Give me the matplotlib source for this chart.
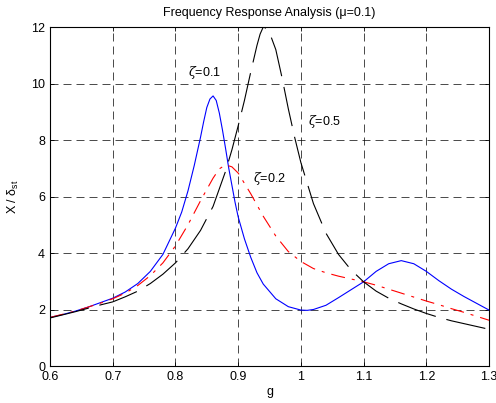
import matplotlib
matplotlib.use("Agg")
import matplotlib.pyplot as plt

plt.rcParams['font.family'] = ['Liberation Sans', 'DejaVu Sans']
plt.rcParams['mathtext.fontset'] = 'custom'
plt.rcParams['mathtext.rm'] = 'Liberation Sans'
plt.rcParams['mathtext.it'] = 'DejaVu Serif:italic'
plt.rcParams['lines.scale_dashes'] = False

# zeta = 0.1 (blue, solid)
g_z01 = [0.60, 0.62, 0.64, 0.66, 0.68, 0.70, 0.72, 0.74, 0.76, 0.78, 0.80, 0.81, 0.82,
         0.83, 0.84, 0.845, 0.85, 0.855, 0.86, 0.865, 0.87, 0.875, 0.88, 0.885, 0.89,
         0.895, 0.90, 0.91, 0.92, 0.93, 0.94, 0.96, 0.98, 1.00, 1.01, 1.02, 1.04, 1.06, 1.08,
         1.10, 1.12, 1.14, 1.16, 1.18, 1.20, 1.22, 1.24, 1.26, 1.28, 1.30]
x_z01 = [1.72, 1.82, 1.94, 2.08, 2.24, 2.40, 2.62, 2.92, 3.35, 3.95, 4.88, 5.45, 6.20,
         7.10, 8.10, 8.65, 9.15, 9.45, 9.56, 9.40, 8.95, 8.35, 7.69, 7.00, 6.40,
         5.80, 5.28, 4.50, 3.85, 3.30, 2.90, 2.38, 2.10, 1.98, 1.97, 2.00, 2.15, 2.42, 2.70,
         2.98, 3.35, 3.62, 3.73, 3.62, 3.35, 3.02, 2.72, 2.46, 2.22, 1.98]

# zeta = 0.2 (red, dash-dot)
g_z02 = [0.60, 0.64, 0.68, 0.70, 0.72, 0.74, 0.76, 0.78, 0.80, 0.82, 0.84, 0.86, 0.87,
         0.88, 0.89, 0.90, 0.92, 0.94, 0.96, 0.98, 1.00, 1.02, 1.04, 1.06, 1.08, 1.10,
         1.12, 1.14, 1.16, 1.18, 1.20, 1.22, 1.24, 1.26, 1.28, 1.30]
x_z02 = [1.72, 1.94, 2.22, 2.38, 2.58, 2.85, 3.20, 3.65, 4.25, 5.00, 5.85, 6.65, 6.98,
         7.12, 7.05, 6.83, 6.10, 5.30, 4.60, 4.05, 3.70, 3.45, 3.30, 3.18, 3.08, 2.98,
         2.86, 2.72, 2.58, 2.44, 2.30, 2.17, 2.03, 1.90, 1.76, 1.62]

# zeta = 0.5 (black, dashed)
g_z05 = [0.60, 0.64, 0.68, 0.70, 0.72, 0.74, 0.76, 0.78, 0.80, 0.82, 0.84, 0.86, 0.88,
         0.89, 0.90, 0.91, 0.92, 0.93, 0.935, 0.94, 0.945, 0.95, 0.96, 0.97, 0.98, 0.99,
         1.00, 1.02, 1.04, 1.06, 1.08, 1.10, 1.12, 1.14, 1.16, 1.18, 1.20, 1.22, 1.24,
         1.26, 1.28, 1.30]
x_z05 = [1.70, 1.92, 2.16, 2.27, 2.45, 2.65, 2.92, 3.25, 3.65, 4.15, 4.80, 5.65, 6.90,
         7.65, 8.50, 9.40, 10.40, 11.35, 11.75, 12.00, 11.95, 11.80, 11.20, 10.20, 9.10, 8.10,
         7.20, 5.75, 4.70, 3.95, 3.40, 2.98, 2.65, 2.40, 2.20, 2.02, 1.86, 1.72, 1.60,
         1.50, 1.40, 1.30]

labels = ['$\\zeta$=0.1', '$\\zeta$=0.2', '$\\zeta$=0.5']
label_pos = [(0.820, 10.4), (0.924, 6.65), (1.011, 8.64)]

xticks = [0.6, 0.7, 0.8, 0.9, 1.0, 1.1, 1.2, 1.3]
xticklabels = ['0.6', '0.7', '0.8', '0.9', '1', '1.1', '1.2', '1.3']
yticks = [0, 2, 4, 6, 8, 10, 12]

fig = plt.figure(figsize=(4.96, 4.03), dpi=100)
ax = fig.add_axes([0.1008, 0.0918, 0.8852, 0.8412])

px = 0.72
ax.plot(g_z01, x_z01, color='#0000ff', lw=0.8)
l2, = ax.plot(g_z02, x_z02, color='#ff0000', lw=0.8)
l2.set_dashes([14 * px, 7 * px, 3 * px, 7 * px])
l3, = ax.plot(g_z05, x_z05, color='black', lw=0.8)
l3.set_dashes([40 * px, 11 * px])

fs = 9
for t, (xx, yy) in zip(labels, label_pos):
    ax.text(xx, yy, t, fontsize=fs, va='center', ha='left')

ax.set_xlim(0.6, 1.3)
ax.set_ylim(0, 12)
ax.set_xticks(xticks)
ax.set_xticklabels(xticklabels)
ax.set_yticks(yticks)
ax.tick_params(direction='in', length=3, labelsize=fs, top=True, right=True, width=0.6)
for s in ax.spines.values():
    s.set_linewidth(0.8)

ax.grid(True, color='black', lw=0.5)
for gl in ax.get_xgridlines() + ax.get_ygridlines():
    gl.set_dashes([8 * px, 5 * px])

ax.set_title('Frequency Response Analysis (μ=0.1)', fontsize=fs, pad=8)
ax.set_xlabel('g', fontsize=fs, labelpad=2)
ax.set_ylabel('X / δ$_{\\rm st}$', fontsize=fs, labelpad=7)

fig.savefig('out.png', dpi=100)
